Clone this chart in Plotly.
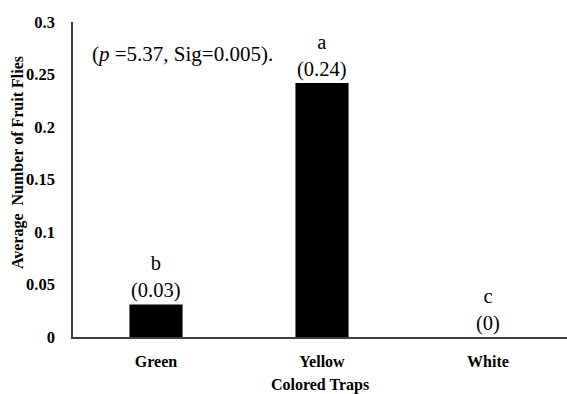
import plotly.graph_objects as go

categories = ["Green", "Yellow", "White"]
values = [0.031, 0.242, 0.0]
letters = ["b", "a", "c"]
value_labels = ["(0.03)", "(0.24)", "(0)"]
y_ticks = [0, 0.05, 0.1, 0.15, 0.2, 0.25, 0.3]
y_tick_labels = ["0", "0.05", "0.1", "0.15", "0.2", "0.25", "0.3"]

FONT = "Times New Roman, Liberation Serif, serif"

fig = go.Figure()
fig.add_trace(go.Bar(
    x=categories, y=values, width=0.32,
    marker=dict(color="black", line=dict(width=0)),
    hoverinfo="skip",
))

for cat, v, let, lab in zip(categories, values, letters, value_labels):
    fig.add_annotation(x=cat, y=v, xref="x", yref="y", text=let + "<br>" + lab,
                       showarrow=False, yanchor="bottom", yshift=0,
                       font=dict(family=FONT, size=20.5, color="black"))

fig.add_annotation(x=0.034, y=0.2695, xref="paper", yref="y",
                   text="(<i>p</i> =5.37, Sig=0.005).", showarrow=False,
                   xanchor="left", yanchor="middle",
                   font=dict(family=FONT, size=21, color="black"))

fig.add_annotation(x=(18 - 73) / (567 - 73), y=0.552, xref="paper", yref="paper",
                   text="<b>Average  Number of Fruit Flies</b>", showarrow=False,
                   xanchor="center", textangle=-90,
                   font=dict(family=FONT, size=16, color="black"))

fig.update_layout(
    width=567, height=394,
    margin=dict(l=73, r=0, t=22, b=57),
    paper_bgcolor="white", plot_bgcolor="white",
    showlegend=False,
    font=dict(family=FONT, color="black"),
    xaxis=dict(range=[-0.5, 2.476], showline=True, linecolor="#404040", linewidth=1.5,
               showgrid=False, ticks="", ticklabelstandoff=9,
               tickfont=dict(family=FONT, size=16, color="black", weight="bold"),
               title=dict(text="<b>Colored Traps</b>", font=dict(family=FONT, size=16, color="black"),
                          standoff=12),
               fixedrange=True),
    yaxis=dict(range=[0, 0.3], tickvals=y_ticks, ticktext=y_tick_labels,
               showline=True, linecolor="#404040", linewidth=1.5,
               showgrid=False, zeroline=False, ticks="", ticklabelstandoff=13,
               tickfont=dict(family=FONT, size=16.5, color="black", weight="bold"),
               fixedrange=True),
)

fig.write_html("out.html")
